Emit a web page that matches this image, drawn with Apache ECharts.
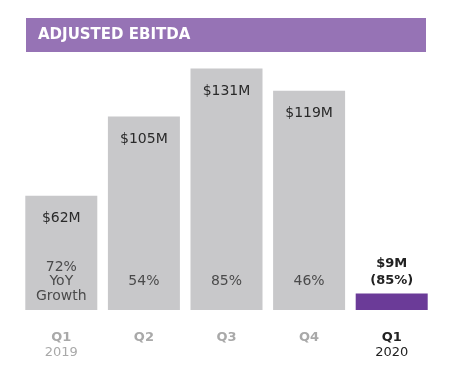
<!DOCTYPE html>
<html><head><meta charset="utf-8">
<script src="https://cdn.jsdelivr.net/npm/echarts@6/dist/echarts.min.js"></script>
<style>html,body{margin:0;padding:0;background:#fff}#c{width:451px;height:385px}</style>
</head><body><div id="c"></div>
<script>
const titleText = 'ADJUSTED EBITDA';
const quarters = ['Q1', 'Q2', 'Q3', 'Q4', 'Q1'];
const years = ['2019', '', '', '', '2020'];
const ebitda = [62, 105, 131, 119, 9];
const valueLabels = ['$62M', '$105M', '$131M', '$119M', '$9M'];
const growthLabels = ['72%\nYoY\nGrowth', '54%', '85%', '46%', '(85%)'];
const highlightIndex = 4;

const FONT = 'DejaVu Sans';
const GRAY = '#c8c8ca';
const PURPLE = '#6b3b98';
const categories = quarters.map((q, i) => q + '|' + years[i] + '|' + i);
const growthAnchor = 15.5;

const chart = echarts.init(document.getElementById('c'), null, {renderer: 'canvas'});
chart.setOption({
  animation: false,
  graphic: [{
    type: 'rect', shape: {x: 26, y: 18, width: 400, height: 34},
    style: {fill: '#9673b5'}
  }],
  title: {
    text: titleText, left: 38, top: 28, padding: 0,
    textStyle: {color: '#fff', fontFamily: FONT, fontWeight: 'bold', fontSize: 15}
  },
  grid: {left: 20, right: 18, top: 52, bottom: 75},
  xAxis: {
    type: 'category', data: categories,
    axisLine: {show: false}, axisTick: {show: false},
    axisLabel: {
      margin: 20, interval: 0,
      formatter: v => {
        const [q, y, i] = v.split('|');
        const hl = +i === highlightIndex;
        return '{' + (hl ? 'qh' : 'q') + '|' + q + '}' + (y ? '\n{' + (hl ? 'yh' : 'y') + '|' + y + '}' : '');
      },
      rich: {
        q: {color: '#a9a9a9', fontFamily: FONT, fontWeight: 'bold', fontSize: 13, lineHeight: 15},
        y: {color: '#a9a9a9', fontFamily: FONT, fontSize: 13, lineHeight: 15},
        qh: {color: '#222', fontFamily: FONT, fontWeight: 'bold', fontSize: 13, lineHeight: 15},
        yh: {color: '#222', fontFamily: FONT, fontSize: 13, lineHeight: 15}
      }
    }
  },
  yAxis: {type: 'value', min: 0, max: 140, show: false, splitLine: {show: false}},
  series: [{
    type: 'bar', barWidth: 72,
    data: ebitda.map((v, i) => ({
      value: v,
      itemStyle: {color: i === highlightIndex ? PURPLE : GRAY},
      label: i === highlightIndex ? {
        show: true, position: 'top', distance: 4,
        formatter: valueLabels[i] + '\n' + growthLabels[i],
        color: '#222', fontFamily: FONT, fontWeight: 'bold', fontSize: 13, lineHeight: 17
      } : {
        show: true, position: 'insideTop', distance: 16,
        formatter: valueLabels[i],
        color: '#2a2a2a', fontFamily: FONT, fontSize: 14
      }
    }))
  }, {
    type: 'scatter', symbolSize: 0, silent: true,
    data: ebitda.map((v, i) => i === highlightIndex ? null : {
      value: [i, growthAnchor],
      label: {
        show: true, position: 'inside', formatter: growthLabels[i],
        color: '#2a2a2a', fontFamily: FONT, fontSize: 14, lineHeight: 14.5
      }
    })
  }]
});
</script></body></html>
